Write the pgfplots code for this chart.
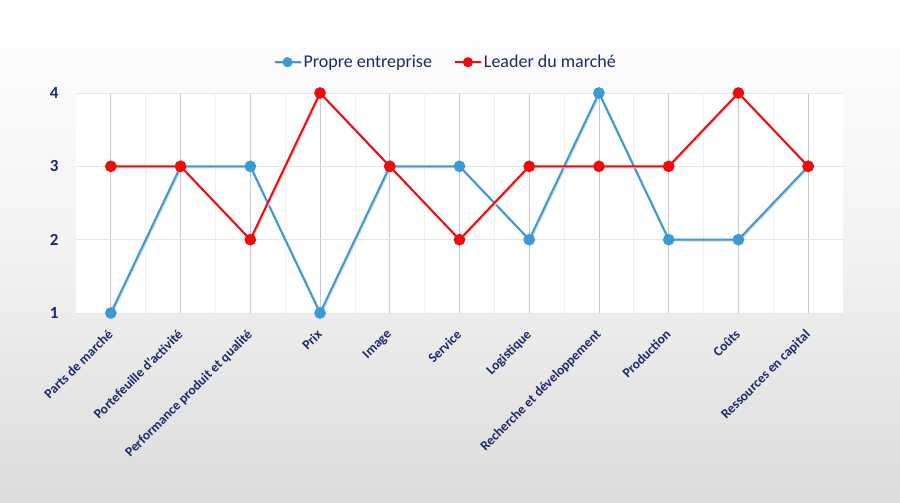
\documentclass[border=0pt]{standalone}
\usepackage{fontspec}
\setmainfont{Carlito}
\usepackage{pgfplots}
\pgfplotsset{compat=1.18}
\definecolor{navy}{HTML}{1B2A6B}
\definecolor{cblue}{HTML}{3A9AD6}
\definecolor{cred}{HTML}{F00A0A}
\begin{document}
\begin{tikzpicture}[x=1pt,y=1pt]
\shade[top color=white, bottom color=black!14, middle color=black!5] (0,0) rectangle (900,503);
\begin{axis}[
  at={(76pt,190pt)}, anchor=south west, scale only axis,
  width=767pt, height=220pt,
  xmin=-0.5, xmax=10.5, ymin=1, ymax=4,
  axis background/.style={fill=white},
  axis line style={draw=none},
  xtick={0,...,10},
  xticklabels={Parts de marché, Portefeuille d'activité, Performance produit et qualité, Prix, Image, Service, Logistique, Recherche et développement, Production, Coûts, Ressources en capital},
  minor x tick num=1,
  ytick={1,2,3,4},
  grid=both,
  major x grid style={draw=black!22, line width=0.9pt},
  minor x grid style={draw=black!6, line width=0.8pt},
  major y grid style={draw=black!10, line width=0.9pt},
  tick style={draw=none},
  /pgf/number format/assume math mode=true,
  xticklabel style={xshift=-4pt, yshift=-14pt, rotate=45, anchor=north east, font=\bfseries\fontsize{13.5}{13.5}\selectfont, text=navy, inner sep=1pt},
  yticklabel style={font=\bfseries\fontsize{17}{17}\selectfont, text=navy, xshift=-14pt},
  legend style={at={(0.482,1.14)}, anchor=center, draw=none, fill=none,
    font=\fontsize{18}{18}\selectfont, text=navy, legend columns=2,
    /tikz/every even column/.append style={column sep=20pt},
    inner sep=0pt},
  legend image code/.code={\draw[mark repeat=2,mark phase=2, mark size=4pt] plot coordinates {(0pt,0pt) (13pt,0pt) (26pt,0pt)};},
  legend cell align=left,
  clip=false,
]
\addplot[color=cblue, line width=2pt, mark=*, mark size=4.8pt, mark options={fill=cblue, draw=cblue},
  preaction={draw=black!15, line width=2pt, transform canvas={shift={(1pt,-1pt)}}}]
  coordinates {(0,1) (1,3) (2,3) (3,1) (4,3) (5,3) (6,2) (7,4) (8,2) (9,2) (10,3)};
\addlegendentry{Propre entreprise}
\addplot[color=cred, line width=2pt, mark=*, mark size=4.8pt, mark options={fill=cred, draw=cred},
  preaction={draw=black!15, line width=2pt, transform canvas={shift={(1pt,-1pt)}}}]
  coordinates {(0,3) (1,3) (2,2) (3,4) (4,3) (5,2) (6,3) (7,3) (8,3) (9,4) (10,3)};
\addlegendentry{Leader du marché}
\end{axis}
\useasboundingbox (0,0) rectangle (900,503);
\end{tikzpicture}
\end{document}
